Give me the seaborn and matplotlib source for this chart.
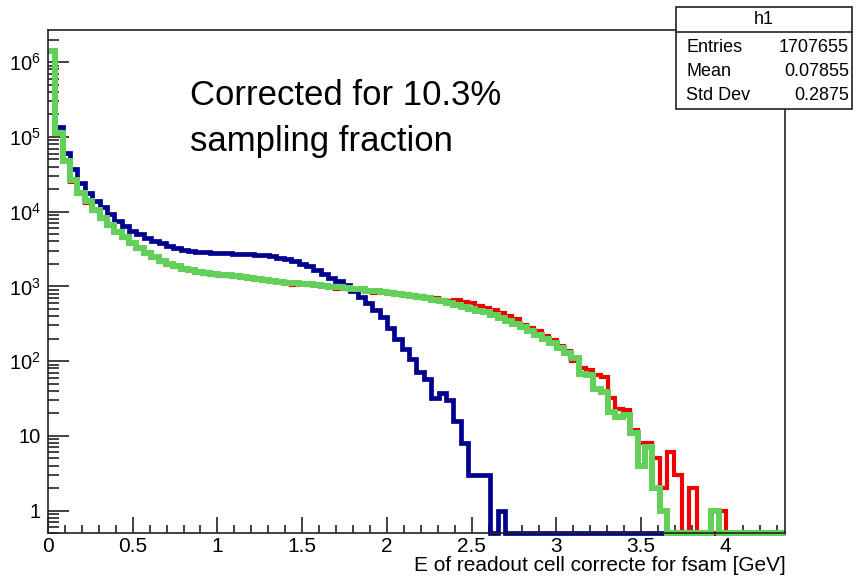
import numpy as np
import pandas as pd
import matplotlib
matplotlib.use('Agg')
import matplotlib.pyplot as plt
import seaborn as sns
from matplotlib.patches import Rectangle
from matplotlib.lines import Line2D
from matplotlib.ticker import FixedLocator, FixedFormatter, MultipleLocator, LogLocator, NullFormatter

sns.set_theme(style='white')
plt.rcParams['font.family'] = ['Liberation Sans', 'DejaVu Sans']
plt.rcParams['mathtext.fontset'] = 'custom'
plt.rcParams['mathtext.rm'] = 'Liberation Sans'
plt.rcParams['text.color'] = 'black'
plt.rcParams['xtick.color'] = 'black'
plt.rcParams['ytick.color'] = 'black'

# 100 bins from 0 to 4.35 GeV
n_bins = 100
x_max = 4.35
bin_edges = np.linspace(0, x_max, n_bins + 1)

blue_counts = [
    1.4e6, 1.36e5, 6.15e4, 3.68e4, 2.39e4, 1.79e4, 1.39e4, 1.17e4, 9200, 7500,
    6400, 5500, 4970, 4490, 4060, 3770, 3500, 3300, 3100, 2980,
    2900, 2850, 2820, 2790, 2770, 2750, 2720, 2680, 2640, 2590,
    2520, 2430, 2320, 2180, 2020, 1850, 1660, 1470, 1310, 1180,
    1050, 880, 720, 590, 480, 390, 275, 195, 145, 105,
    72, 58, 32, 37, 30, 16, 8, 3, 3, 3,
    0, 1, 0, 0, 0, 0, 0, 0, 0, 0,
    0, 0, 0, 0, 0, 0, 0, 0, 0, 0,
    0, 0, 0, 0, 0, 0, 0, 0, 0, 0,
    0, 0, 0, 0, 0, 0, 0, 0, 0, 0,
]

red_counts = [
    1.4e6, 1.08e5, 4.6e4, 2.5e4, 1.7e4, 1.3e4, 1.03e4, 8000, 6400, 5300,
    4450, 3750, 3200, 2700, 2400, 2150, 1950, 1820, 1700, 1600,
    1530, 1460, 1440, 1370, 1390, 1350, 1330, 1290, 1250, 1170,
    1180, 1140, 1110, 1050, 1070, 1050, 1030, 1000, 980, 930,
    910, 920, 900, 880, 820, 830, 810, 795, 780, 760,
    740, 720, 700, 660, 640, 660, 620, 590, 550, 520,
    490, 445, 405, 370, 300, 275, 250, 215, 190, 158,
    135, 100, 80, 76, 65, 62, 32, 23, 22, 12,
    8, 8, 5, 2, 6, 3, 0, 2, 0, 0,
    0, 1, 0, 0, 0, 0, 0, 0, 0, 0,
]

green_counts = [
    1.4e6, 1.12e5, 4.7e4, 2.66e4, 1.8e4, 1.37e4, 1.06e4, 8200, 6660, 5400,
    4570, 3800, 3250, 2790, 2460, 2200, 2000, 1850, 1720, 1640,
    1560, 1500, 1470, 1440, 1400, 1370, 1340, 1300, 1260, 1230,
    1190, 1150, 1120, 1100, 1080, 1060, 1040, 1010, 990, 970,
    950, 930, 910, 880, 860, 840, 820, 790, 765, 740,
    715, 690, 660, 630, 600, 565, 530, 500, 470, 450,
    420, 380, 345, 315, 285, 250, 225, 200, 172, 150,
    130, 110, 68, 65, 42, 38, 21, 18, 19, 11,
    4, 7, 2, 1, 0, 0, 0, 0, 0, 0,
    1, 0, 0, 0, 0, 0, 0, 0, 0, 0,
]

y_min, y_max = 0.5, 2.7e6

y_major = [1, 10, 1e2, 1e3, 1e4, 1e5, 1e6]
y_major_labels = ['1', '10', r'$\mathdefault{10^{2}}$', r'$\mathdefault{10^{3}}$',
                  r'$\mathdefault{10^{4}}$', r'$\mathdefault{10^{5}}$', r'$\mathdefault{10^{6}}$']

stats_rows = [('Entries', '1707655'), ('Mean', '0.07855'), ('Std Dev', '0.2875')]


def step_frame(counts):
    # empty bins are drawn on the bottom of the frame, like ROOT does on log scale
    shown = np.maximum(np.asarray(counts, dtype=float), y_min)
    return pd.DataFrame({'E': bin_edges, 'count': np.append(shown, shown[-1])})


fig = plt.figure(figsize=(8.57, 5.78), dpi=100)
ax = fig.add_axes([48 / 857, 45 / 578, 737 / 857, 503 / 578])
ax.set_yscale('log')

line_kw = dict(drawstyle='steps-post', estimator=None, legend=False, ax=ax,
               solid_joinstyle='miter', solid_capstyle='butt', clip_on=False)
sns.lineplot(data=step_frame(blue_counts), x='E', y='count', color='#00008f', lw=3.4, **line_kw)
sns.lineplot(data=step_frame(red_counts), x='E', y='count', color='#f00000', lw=3.0, **line_kw)
sns.lineplot(data=step_frame(green_counts), x='E', y='count', color='#62d05a', lw=4.3, **line_kw)

ax.set_xlim(0, x_max)
ax.set_ylim(y_min, y_max)
ax.set_xlabel('')
ax.set_ylabel('')

ax.xaxis.set_major_locator(MultipleLocator(0.5))
ax.xaxis.set_minor_locator(MultipleLocator(0.1))
ax.xaxis.set_major_formatter(matplotlib.ticker.FuncFormatter(lambda v, p: f'{v:g}'))
ax.yaxis.set_major_locator(FixedLocator(y_major))
ax.yaxis.set_major_formatter(FixedFormatter(y_major_labels))
ax.yaxis.set_minor_locator(LogLocator(base=10, subs=np.arange(2, 10)))
ax.yaxis.set_minor_formatter(NullFormatter())

ax.tick_params(axis='both', which='both', direction='in', bottom=True, left=True,
               top=False, right=False, color='#222222', labelcolor='black', width=1.2)
ax.tick_params(axis='x', which='major', length=11.5, labelsize=15, pad=3)
ax.tick_params(axis='x', which='minor', length=5.8)
ax.tick_params(axis='y', which='major', length=15, labelsize=14.5, pad=5)
ax.tick_params(axis='y', which='minor', length=8)
for s in ax.spines.values():
    s.set_color('#222222')
    s.set_linewidth(1.2)

fig.text(786 / 857, 3 / 578, 'E of readout cell correcte for fsam [GeV]',
         ha='right', va='bottom', fontsize=15)

fig.text(190 / 857, 1 - 79 / 578, 'Corrected for 10.3%\nsampling fraction',
         ha='left', va='top', fontsize=25, linespacing=1.5)

# stats box
bx0, bx1 = 676 / 857, 852 / 857
by0, by1 = 1 - 109 / 578, 1 - 7 / 578
fig.patches.append(Rectangle((bx0, by0), bx1 - bx0, by1 - by0, transform=fig.transFigure,
                             facecolor='white', edgecolor='#222222', lw=1.2, zorder=5))
fig.lines.append(Line2D([bx0, bx1], [1 - 32 / 578] * 2, transform=fig.transFigure,
                        color='#222222', lw=1.2, zorder=6))
fig.text((bx0 + bx1) / 2, 1 - 20 / 578, 'h1', ha='center', va='center', fontsize=13, zorder=7)
for i, (k, v) in enumerate(stats_rows):
    yy = 1 - (47 + 24 * i) / 578
    fig.text(686 / 857, yy, k, ha='left', va='center', fontsize=13, zorder=7)
    fig.text(849 / 857, yy, v, ha='right', va='center', fontsize=13, zorder=7)

fig.savefig('out.png', dpi=100)
